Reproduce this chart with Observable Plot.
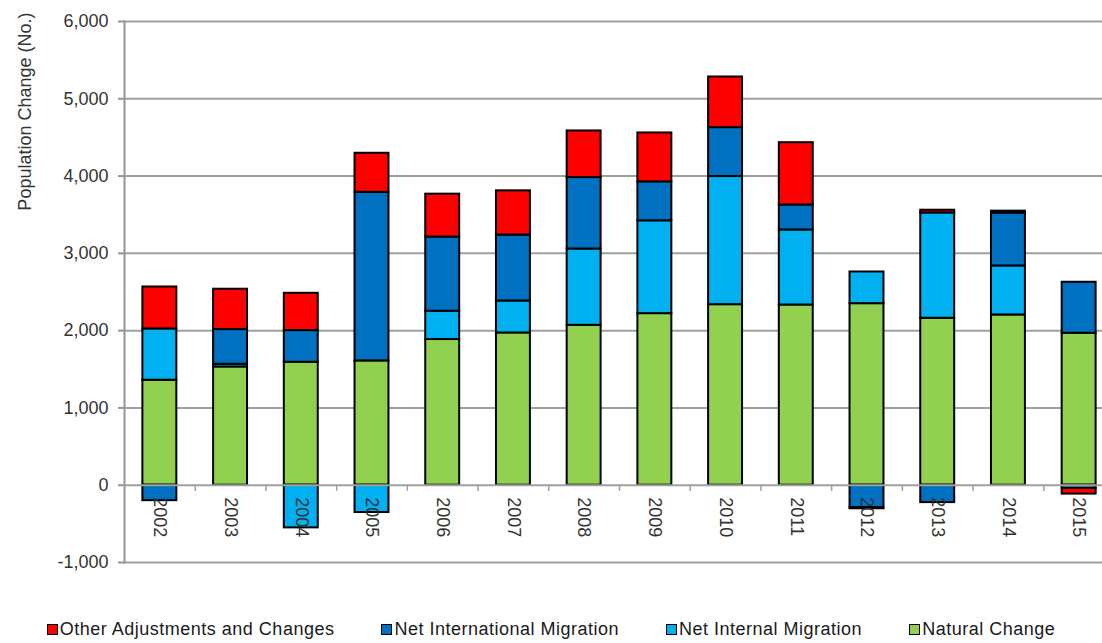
<!DOCTYPE html>
<html>
<head>
<meta charset="utf-8">
<script src="https://cdn.jsdelivr.net/npm/d3@7"></script>
<script src="https://cdn.jsdelivr.net/npm/@observablehq/plot@0.6"></script>
<style>
  html, body { margin: 0; padding: 0; background: #fff; overflow: hidden; }
  #chart svg { display: block; }
  .legend {
    display: flex; justify-content: center; gap: 47px;
    margin-top: 18px;
    font: 18px "Liberation Sans", Arial, sans-serif;
    letter-spacing: 0.5px; color: #1a1a1a; line-height: 22px;
  }
  .legend .item { display: flex; align-items: center; }
  .legend .sw { width: 11px; height: 11px; box-sizing: border-box; border: 1.5px solid #000; margin-right: 2px; }
</style>
</head>
<body>
<div id="chart"></div>
<div class="legend" id="legend"></div>
<script>
// Components of annual population change, 2002–2015
const years = [2002, 2003, 2004, 2005, 2006, 2007, 2008, 2009, 2010, 2011, 2012, 2013, 2014, 2015];

const seriesNames  = ["Natural Change", "Net Internal Migration", "Net International Migration", "Other Adjustments and Changes"];
const seriesColors = ["#92D050", "#00B0F0", "#0070C0", "#FF0000"];

const naturalChange      = [1358, 1530, 1591, 1608, 1885, 1970, 2069, 2220, 2336, 2332, 2349, 2160, 2203, 1966];
const netInternal        = [664, 35, -552, -353, 366, 414, 987, 1201, 1658, 971, 410, 1363, 634, -40];
const netInternational   = [-200, 449, 410, 2182, 960, 853, 925, 504, 633, 323, -290, -225, 684, 660];
const otherAdjustments   = [543, 522, 482, 505, 555, 572, 603, 633, 655, 806, -15, 35, 25, -75];

const yTicks = [-1000, 0, 1000, 2000, 3000, 4000, 5000, 6000];
const yTitle = "Population Change (No.)";

// Long-format table for stacking
const seriesValues = [naturalChange, netInternal, netInternational, otherAdjustments];
const table = [];
seriesNames.forEach((name, s) => {
  years.forEach((year, i) => table.push({year, series: name, value: seriesValues[s][i]}));
});

const xRange = [124, 1114];
const halfStep = (xRange[1] - xRange[0]) / years.length / 2;
const font = '"Liberation Sans", Arial, sans-serif';
const gridColor = "#a0a0a0";

const chart = Plot.plot({
  width: 1102,
  height: 600,
  marginLeft: 124,
  marginRight: 0,
  marginTop: 21,
  marginBottom: 38,
  style: {fontFamily: font, background: "#fff"},
  x: {type: "band", domain: years, range: xRange, round: false, paddingInner: 0.52, paddingOuter: 0.26, axis: null},
  y: {domain: [-1000, 6000], axis: null},
  color: {domain: seriesNames, range: seriesColors},
  marks: [
    Plot.ruleY(yTicks.filter(t => t !== 0), {stroke: gridColor, strokeWidth: 2}),
    Plot.frame({anchor: "left", stroke: "#959595", strokeWidth: 2}),
    Plot.axisY({
      ticks: yTicks, tickSize: 6, tickPadding: 10, fontSize: 18,
      stroke: "#959595", strokeWidth: 2, color: "#333",
      tickFormat: d => d.toLocaleString("en-US"), label: null
    }),
    Plot.barY(table, Plot.stackY({
      x: "year", y: "value", fill: "series", order: seriesNames,
      stroke: "#000", strokeWidth: 2
    })),
    // category axis along zero
    Plot.ruleY([0], {stroke: gridColor, strokeWidth: 2}),
    Plot.ruleX(years, {x: d => d, y1: 0, y2: -80, dx: halfStep, stroke: gridColor, strokeWidth: 1.5}),
    Plot.text(years, {
      x: d => d, y: 0, text: d => String(d), rotate: 90,
      textAnchor: "start", dy: 12, fontSize: 18, fill: "#333"
    }),
    Plot.text([yTitle], {
      frameAnchor: "top-left", text: d => d, rotate: -90, textAnchor: "end",
      dx: -106, dy: -9, fontSize: 18, fill: "#333"
    })
  ]
});
document.getElementById("chart").appendChild(chart);

// Legend, listed from top series down
const legend = document.getElementById("legend");
[3, 2, 1, 0].forEach(s => {
  const item = document.createElement("div");
  item.className = "item";
  const sw = document.createElement("span");
  sw.className = "sw";
  sw.style.background = seriesColors[s];
  const label = document.createElement("span");
  label.textContent = seriesNames[s];
  item.append(sw, label);
  legend.appendChild(item);
});
</script>
</body>
</html>
